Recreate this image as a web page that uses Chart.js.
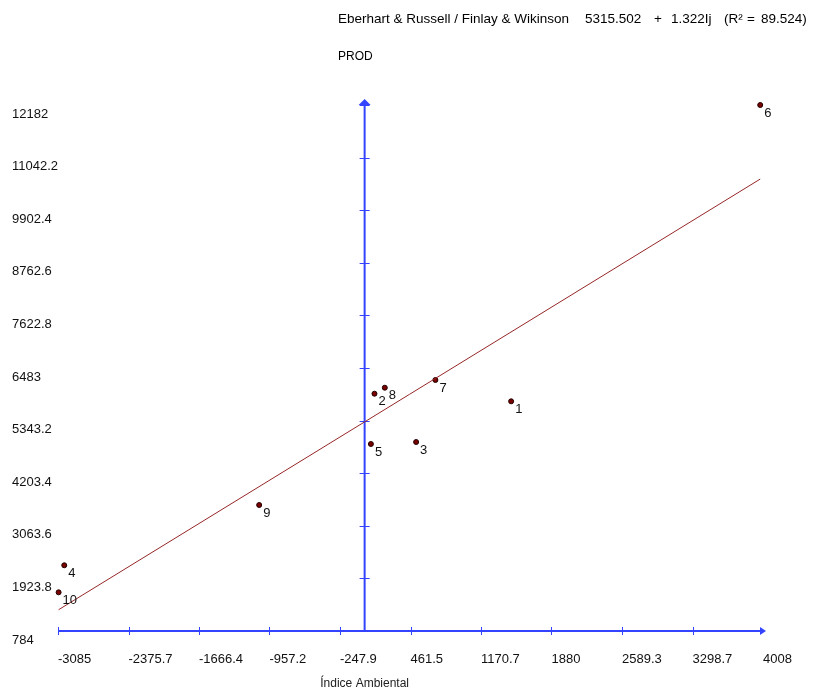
<!DOCTYPE html>
<html>
<head>
<meta charset="utf-8">
<script src="https://cdn.jsdelivr.net/npm/chart.js@4.4.1/dist/chart.umd.min.js"></script>
<style>
  html, body { margin: 0; padding: 0; background: #fff; }
  #wrap { position: relative; width: 814px; height: 692px; }
</style>
</head>
<body>
<div id="wrap"><canvas id="chart"></canvas></div>
<script>
// Eberhart & Russell / Finlay & Wilkinson — PROD vs índice ambiental

const genotypes = ['1', '2', '3', '4', '5', '6', '7', '8', '9', '10'];
const envIndex  = [1474, 99, 518, -3022, 63, 3980, 712, 203, -1061, -3079];
const prod      = [5761, 5926, 4879, 2208, 4836, 12182, 6223, 6056, 3514, 1622];

const intercept = 5315.502;
const slope = 1.322;
const r2 = 89.524;

const xTicks = [-3085, -2375.7, -1666.4, -957.2, -247.9, 461.5, 1170.7, 1880, 2589.3, 3298.7, 4008];
const yTicks = [784, 1923.8, 3063.6, 4203.4, 5343.2, 6483, 7622.8, 8762.6, 9902.4, 11042.2, 12182];

const FONT = '"Liberation Sans", Arial, sans-serif';
const AXIS_BLUE = '#3343ff';

// linha de regressão entre o menor e o maior índice
const xLo = Math.min(...envIndex);
const xHi = Math.max(...envIndex);
const regLine = [
  { x: xLo, y: intercept + slope * xLo },
  { x: xHi, y: intercept + slope * xHi }
];

const points = envIndex.map((x, i) => ({ x, y: prod[i] }));

// eixos azuis cruzando em x = 0, com setas
const axesPlugin = {
  id: 'axes',
  beforeDatasetsDraw(chart) {
    const { ctx, scales: { x, y } } = chart;
    const y0 = y.getPixelForValue(yTicks[0]);
    const x0 = x.getPixelForValue(0);
    const xl = x.getPixelForValue(xTicks[0]);
    const xr = x.getPixelForValue(xTicks[xTicks.length - 1]);
    const yt = y.getPixelForValue(yTicks[yTicks.length - 1]);
    ctx.save();
    ctx.strokeStyle = AXIS_BLUE;
    ctx.fillStyle = AXIS_BLUE;
    ctx.lineWidth = 2;
    ctx.beginPath();
    ctx.moveTo(xl, y0); ctx.lineTo(xr - 3, y0);
    ctx.moveTo(x0, y0); ctx.lineTo(x0, yt + 1);
    ctx.stroke();

    ctx.lineWidth = 1;
    ctx.beginPath();
    xTicks.slice(0, -1).forEach(v => {
      const px = Math.round(x.getPixelForValue(v)) + 0.5;
      ctx.moveTo(px, y0 - 4); ctx.lineTo(px, y0 + 4);
    });
    yTicks.forEach(v => {
      const py = Math.round(y.getPixelForValue(v)) + 0.5;
      ctx.moveTo(x0 - 5, py); ctx.lineTo(x0 + 5, py);
    });
    ctx.stroke();

    // setas
    ctx.beginPath();
    ctx.moveTo(xr + 3, y0); ctx.lineTo(xr - 3, y0 - 4); ctx.lineTo(xr - 3, y0 + 4);
    ctx.closePath(); ctx.fill();
    ctx.beginPath();
    ctx.moveTo(x0, yt - 6); ctx.lineTo(x0 - 6, yt); ctx.lineTo(x0 + 6, yt);
    ctx.closePath(); ctx.fill();
    ctx.restore();
  }
};

// números dos genótipos e textos do cabeçalho
const labelsPlugin = {
  id: 'labels',
  afterDatasetsDraw(chart) {
    const { ctx, scales: { x } } = chart;
    const meta = chart.getDatasetMeta(1);
    ctx.save();
    ctx.fillStyle = '#111';
    ctx.font = '13px ' + FONT;
    ctx.textAlign = 'left';
    ctx.textBaseline = 'middle';
    meta.data.forEach((pt, i) => {
      ctx.fillText(genotypes[i], pt.x + 4, pt.y + 8);
    });

    ctx.fillStyle = '#000';
    ctx.font = '13.5px ' + FONT;
    ctx.fillText('Eberhart & Russell / Finlay & Wikinson', 338, 19);
    ctx.fillText(intercept.toFixed(3), 585, 19);
    ctx.fillText('+', 654, 19);
    ctx.fillText(slope.toFixed(3) + 'Ij', 671, 19);
    ctx.fillText('(R²', 724, 19);
    ctx.fillText('=', 747, 19);
    ctx.fillText(r2.toFixed(3) + ')', 761, 19);

    ctx.font = '12px ' + FONT;
    ctx.fillText('PROD', 338, 57);

    ctx.textAlign = 'center';
    ctx.fillStyle = '#222';
    ctx.fillText('Índice Ambiental', x.getPixelForValue(0), 684);
    ctx.restore();
  }
};

const ctx = document.getElementById('chart').getContext('2d');

new Chart(ctx, {
  data: {
    datasets: [
      {
        type: 'line',
        data: regLine,
        borderColor: '#962626',
        borderWidth: 1,
        pointRadius: 0,
        fill: false,
        clip: false
      },
      {
        type: 'scatter',
        data: points,
        pointRadius: 2.5,
        pointBackgroundColor: '#7a0000',
        pointBorderColor: '#200000',
        pointBorderWidth: 1,
        clip: false
      }
    ]
  },
  options: {
    responsive: true,
    maintainAspectRatio: false,
    animation: false,
    events: [],
    layout: { padding: { left: 12, top: 105, right: 51, bottom: 0 } },
    plugins: {
      legend: { display: false },
      title: { display: false },
      tooltip: { enabled: false }
    },
    scales: {
      x: {
        type: 'linear',
        min: xTicks[0],
        max: xTicks[xTicks.length - 1],
        afterBuildTicks: s => { s.ticks = xTicks.map(v => ({ value: v })); },
        afterFit: s => { s.height = 61; },
        grid: { display: false, drawTicks: false },
        border: { display: false },
        ticks: {
          align: 'start',
          padding: 21,
          color: '#111',
          font: { family: FONT, size: 13 },
          maxRotation: 0,
          autoSkip: false,
          callback: v => String(v)
        }
      },
      y: {
        type: 'linear',
        min: yTicks[0],
        max: yTicks[yTicks.length - 1],
        afterBuildTicks: s => { s.ticks = yTicks.map(v => ({ value: v })); },
        afterFit: s => { s.width = 46; },
        grid: { display: false, drawTicks: false },
        border: { display: false },
        ticks: {
          crossAlign: 'far',
          labelOffset: 9,
          color: '#111',
          font: { family: FONT, size: 13 },
          autoSkip: false,
          callback: v => String(v)
        }
      }
    }
  },
  plugins: [axesPlugin, labelsPlugin]
});
</script>
</body>
</html>
